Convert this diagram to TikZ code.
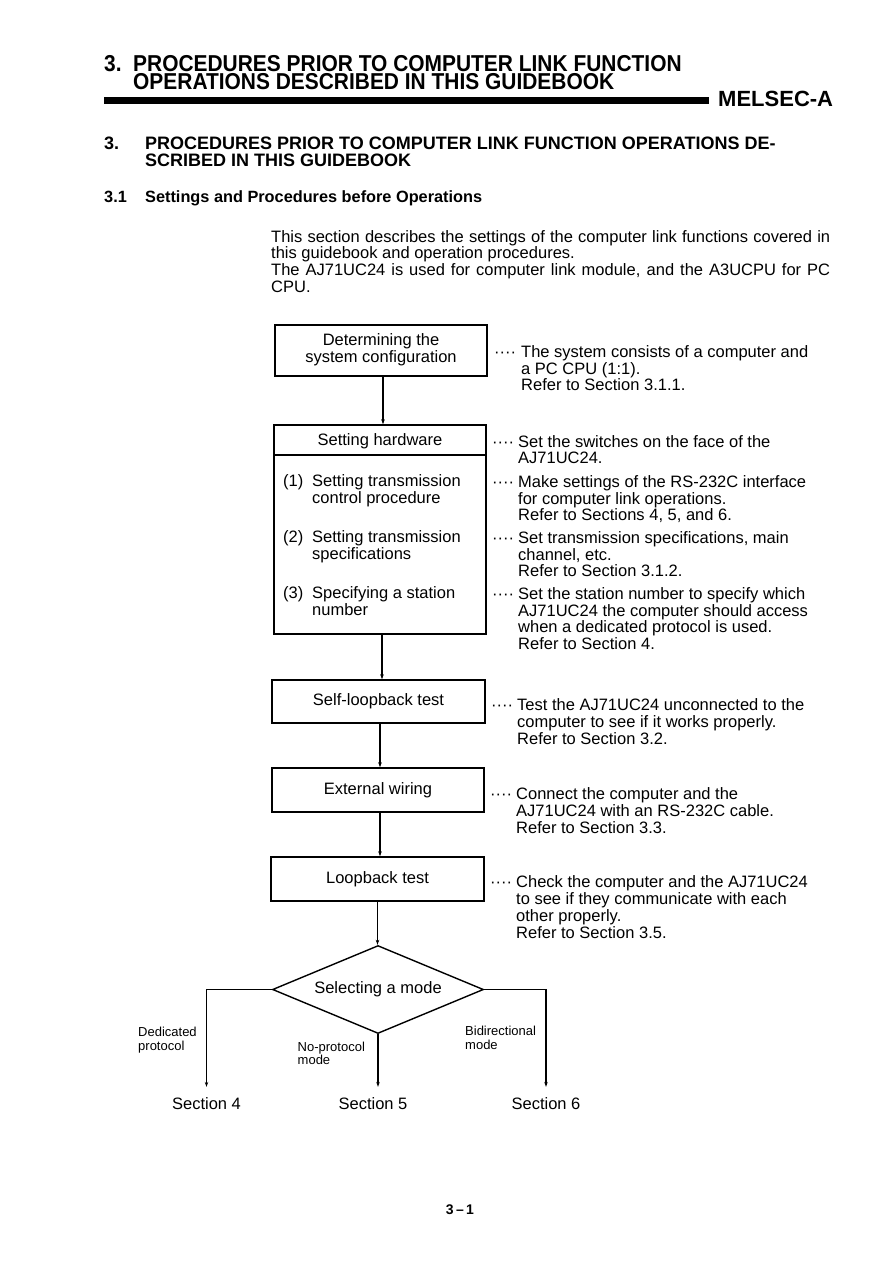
\documentclass[tikz,border=0pt]{standalone}
\usepackage{fontspec}
\setmainfont{Liberation Sans}
\usepackage{graphicx}
\usetikzlibrary{arrows.meta,shapes.geometric}
\newcommand\mlines[1]{\begin{tabular}[t]{@{}l@{}}#1\end{tabular}}
\newcommand\clines[1]{\begin{tabular}{@{}c@{}}#1\end{tabular}}
\tikzset{
  body/.style={font=\fontsize{16.5}{16.8}\selectfont, inner sep=0pt},
  txt/.style={body, anchor=base west},
  headA/.style={font=\fontsize{23}{24}\selectfont\bfseries, inner sep=0pt, anchor=base west},
  headB/.style={font=\fontsize{18}{20}\selectfont\bfseries, inner sep=0pt, anchor=base west},
  headC/.style={font=\fontsize{16.3}{18}\selectfont\bfseries, inner sep=0pt, anchor=base west},
  flowbox/.style={draw, line width=1.4pt, inner sep=0pt, font=\fontsize{16.5}{16.8}\selectfont},
  conn/.style={line width=1.2pt, -{Stealth[length=5pt,width=3.5pt]}},
  lbl/.style={font=\fontsize{13}{13.5}\selectfont, anchor=base west, inner sep=0pt},
  sect/.style={body, anchor=base},
}
\begin{document}
\begin{tikzpicture}[x=1pt,y=-1pt]
\useasboundingbox (0,0) rectangle (893,1263);
% page header
\node[headA] (t3) at (104,71.5) {\scalebox{0.91}[1]{3.}};
\node[headA] (title1) at (133,71.5) {\scalebox{0.91}[1]{PROCEDURES PRIOR TO COMPUTER LINK FUNCTION}};
\node[headA] (title2) at (133,89.5) {\scalebox{0.91}[1]{OPERATIONS DESCRIBED IN THIS GUIDEBOOK}};
\fill (104,97) rectangle (709,103.5);
\node[headA, font=\fontsize{22}{24}\selectfont\bfseries] (mel) at (718,106.5) {MELSEC-A};
% section heading
\node[headB] (s3) at (104,149) {3.};
\node[headB] (sh1) at (145,149) {PROCEDURES PRIOR TO COMPUTER LINK FUNCTION OPERATIONS DE-};
\node[headB] (sh2) at (145,166) {SCRIBED IN THIS GUIDEBOOK};
\node[headC] (s31) at (104,202) {3.1};
\node[headC] (sh3) at (145,202) {Settings and Procedures before Operations};
% paragraph
\node[txt, font=\fontsize{16.5}{16.5}\selectfont] (para) at (271,242) {\mlines{%
\makebox[559pt][s]{This section describes the settings of the computer link functions covered in}\\
this guidebook and operation procedures.\\
\makebox[559pt][s]{The AJ71UC24 is used for computer link module, and the A3UCPU for PC}\\
CPU.}};
% flow boxes
\node[flowbox, minimum width=212pt, minimum height=51pt] (b1) at (381,350.5) {\clines{Determining the\\system configuration}};
\node[flowbox, minimum width=212pt, minimum height=209pt] (b2) at (380,529.5) {};
\coordinate (div) at (0,455);
\draw[line width=1.2pt] (b2.west |- div) -- (b2.east |- div);
\node[body] (hw) at (380,441) {Setting hardware};
\node[txt] (i1n) at (283,486) {(1)};
\node[txt] (i1t) at (312,486) {\mlines{Setting transmission\\control procedure}};
\node[txt] (i2n) at (283,542) {(2)};
\node[txt] (i2t) at (312,542) {\mlines{Setting transmission\\specifications}};
\node[txt] (i3n) at (283,598) {(3)};
\node[txt] (i3t) at (312,598) {\mlines{Specifying a station\\number}};
\node[flowbox, minimum width=213pt, minimum height=43pt] (b3) at (378.5,701.5) {Self-loopback test};
\node[flowbox, minimum width=212pt, minimum height=44pt] (b4) at (378,790) {External wiring};
\node[flowbox, minimum width=213pt, minimum height=44pt] (b5) at (377.5,879) {Loopback test};
\node[flowbox, diamond, aspect=2.4, minimum width=211pt, minimum height=88pt] (mode) at (378,989.5) {Selecting a mode};
% connectors
\draw[conn] ([xshift=2pt]b1.south) -- ([xshift=2pt]b1.south |- b2.north);
\draw[conn] ([xshift=2pt]b2.south) -- ([xshift=2pt]b2.south |- b3.north);
\draw[conn] ([xshift=1.5pt]b3.south) -- ([xshift=1.5pt]b3.south |- b4.north);
\draw[conn] ([xshift=2pt]b4.south) -- ([xshift=2pt]b4.south |- b5.north);
\draw[conn] (b5.south) -- (b5.south |- mode.north);
% outcomes
\node[sect] (sec4) at (206.5,1109) {Section 4};
\node[sect] (sec5) at (373,1109) {Section 5};
\node[sect] (sec6) at (546,1109) {Section 6};
\draw[conn, shorten >=10pt] (mode.west) -| (sec4.north);
\draw[conn, shorten >=10pt] (mode.south) -- (mode.south |- sec5.north);
\draw[conn, shorten >=10pt] (mode.east) -| (sec6.north);
\node[lbl] (l4) at (138,1036.5) {\mlines{Dedicated\\protocol}};
\node[lbl] (l5) at (297.5,1051) {\mlines{No-protocol\\mode}};
\node[lbl] (l6) at (465,1035.5) {\mlines{Bidirectional\\mode}};
% annotations
\node[txt] (d1) at (494,357) {····};
\node[txt] (a1) at (521,357) {\mlines{The system consists of a computer and\\a PC CPU (1:1).\\Refer to Section 3.1.1.}};
\node[txt] (d2) at (492,447) {····};
\node[txt] (a2) at (518,447) {\mlines{Set the switches on the face of the\\AJ71UC24.}};
\node[txt] (d3) at (492,487) {····};
\node[txt] (a3) at (518,487) {\mlines{Make settings of the RS-232C interface\\for computer link operations.\\Refer to Sections 4, 5, and 6.}};
\node[txt] (d4) at (492,543) {····};
\node[txt] (a4) at (518,543) {\mlines{Set transmission specifications, main\\channel, etc.\\Refer to Section 3.1.2.}};
\node[txt] (d5) at (492,599) {····};
\node[txt] (a5) at (518,599) {\mlines{Set the station number to specify which\\AJ71UC24 the computer should access\\when a dedicated protocol is used.\\Refer to Section 4.}};
\node[txt] (d6) at (491,710) {····};
\node[txt] (a6) at (517,710) {\mlines{Test the AJ71UC24 unconnected to the\\computer to see if it works properly.\\Refer to Section 3.2.}};
\node[txt] (d7) at (490,799) {····};
\node[txt] (a7) at (516,799) {\mlines{Connect the computer and the\\AJ71UC24 with an RS-232C cable.\\Refer to Section 3.3.}};
\node[txt] (d8) at (490,887) {····};
\node[txt] (a8) at (516,887) {\mlines{Check the computer and the AJ71UC24\\to see if they communicate with each\\other properly.\\Refer to Section 3.5.}};
% page number
\node[anchor=base, inner sep=0pt, font=\fontsize{14}{16}\selectfont\bfseries] (pg) at (460,1214) {3\,--\,1};
\end{tikzpicture}
\end{document}
